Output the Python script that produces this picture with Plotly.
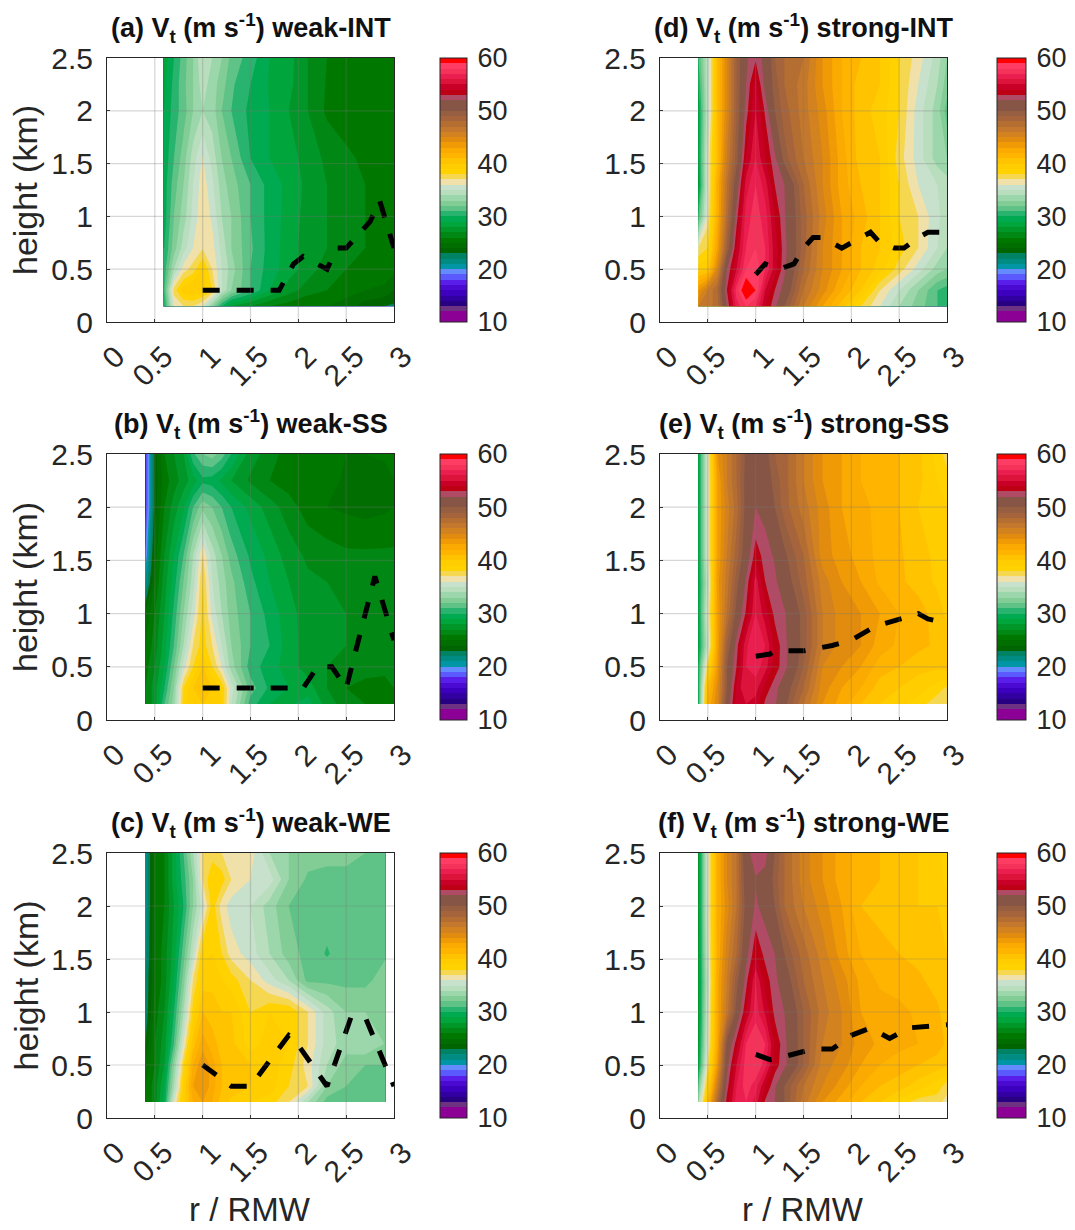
import plotly.graph_objects as go
from plotly.subplots import make_subplots

n = float("nan")

# ----- shared data -----
r_vals = [0.4,0.5,0.6,0.7,0.8,0.9,1.0,1.1,1.2,1.3,1.5,1.7,1.9,2.1,2.3,2.5,2.7,2.9,3.0]
heights = [0.15,0.3,0.5,0.7,1.0,1.3,1.55,2.0,2.25,2.5]
x_ticks = [0,0.5,1,1.5,2,2.5,3]
y_ticks = [0,0.5,1,1.5,2,2.5]
x_tick_text = ["0","0.5","1","1.5","2","2.5","3"]
y_tick_text = ["0","0.5","1","1.5","2","2.5"]
cbar_ticks = [10,20,30,40,50,60]

band_colors = [
 (140,0,150),(140,0,150),(110,50,130),(40,0,130),(50,0,160),(60,0,190),(75,10,210),(90,30,235),(90,90,255),(100,140,255),
 (0,150,165),(0,140,130),(0,130,100),(0,100,0),(0,110,0),(0,120,0),(0,135,20),(0,150,40),(0,165,60),(0,170,80),
 (40,180,110),(95,195,135),(130,205,150),(155,215,170),(185,222,190),(200,225,205),(240,225,170),(245,215,80),(255,210,0),(255,205,0),
 (255,195,0),(255,180,0),(250,170,0),(240,155,5),(225,140,15),(210,130,30),(195,120,45),(180,110,50),(165,100,60),(150,95,65),
 (135,85,70),(135,85,70),(175,75,100),(190,0,20),(200,0,40),(220,20,60),(235,30,80),(245,50,90),(255,60,100),(255,0,0)]

weak_int = [
 [n,n,30,36,37,37,36,33,30,28,27,26,25.5,25,25,24.5,23.5,23,22.8],
 [n,n,31,37.5,39.5,40,39.5,38,35,33,31,29,27.5,26.5,26,25.5,25,24.8,24],
 [n,n,30.5,34,36.5,37.5,39.2,37,35,33.5,31,29.5,28.5,27.5,26.5,26,25.8,25.5,25.3],
 [n,n,30,32.5,34.5,36,36.9,36.4,34.7,33,31.2,29.6,28.5,27.5,27,26.2,26,25.8,25.6],
 [n,n,29.5,32,33.5,35.3,36.8,35.8,34,33,31,29.6,28.6,27.6,27,26.5,26,26,26],
 [n,n,29.5,31.5,33,35,36.6,35.2,33.5,32.5,31,29.6,28.7,27.7,27,26.5,26,25.9,25.9],
 [n,n,29.3,31,32.5,34.5,36.1,34.6,33,32,30,29,28.5,27.5,26.8,26.2,25.8,25.8,25.8],
 [n,n,29,30.5,31.5,33,34,33.5,32,31,29.7,29,28,27,25.8,25.5,25.5,25.6,25.8],
 [n,n,28.8,30.3,31.7,33,34.5,33.5,32.5,31.2,30,28.9,28.3,27,25.9,25.6,25.6,25.7,25.8],
 [n,n,28.5,30,31.5,33,35,34,33,31.7,30.5,29,28.4,27,26,25.8,25.7,25.8,25.9]]

weak_ss = [
 [26,27.5,31,33.5,38.5,40,40,40,39,35,30.5,29,28.8,29.5,27.5,26.5,26,26,26],
 [26,27.5,30,33,38,40,41,40,38.8,35.5,31.5,29.8,29,28.5,27,26,25.6,25.6,26],
 [25.5,27,29,32,35.5,38,40,38,36,33.5,30.5,29.5,28.5,27.5,27,26.8,26.5,26.3,26.3],
 [25,26.5,28.5,31,34,37,38.5,37,35,33,31,30,28.5,27.5,27.2,27,26.8,26.6,26.6],
 [24,26,28,30.3,33,35.5,38.3,35.7,34,32.5,31,29.6,28.4,27.5,27.2,27,26.8,26.8,26.8],
 [21,25,27.5,29.5,32,34.5,38,35,33.5,32.3,30.3,29,28,27.2,27,26.8,26.7,26.7,26.7],
 [19,24.5,27,29,31,34,37,34.5,33,31.5,29.8,28.7,27.5,26.8,26.5,26.2,26.2,26.2,26.2],
 [17.5,23.5,26,27.5,28.8,31,32.7,32,31,30,28.7,27.5,26.5,25.5,25,24.8,24.6,24.8,25],
 [17.5,23.5,25.5,26.5,27.5,28.5,29.7,29.5,28.8,28,26.8,26,25.5,25.3,25.2,24.9,24.4,24.5,25],
 [17.5,23.5,26,27,28,30.8,32,32.5,31.5,30,27.5,26.5,25.5,25.5,25.3,25,25,25.2,25.5]]

weak_we = [
 [25,26.5,29.5,36,39.5,42,43,42,40.5,39.8,39,38.5,37,34,31.5,31.5,31.5,31.5,n],
 [25,26.5,29,34,39,43,44,42.5,41,40.5,40,39.5,38,37,33,32,32,31.5,n],
 [24,26,28,33,38,42,44,42.5,41,40.5,40,39.5,38.5,36.5,34,32.5,32,32,n],
 [23,26,27.5,31,36,40.5,42.5,41.5,40.5,40.3,38.5,39.5,39,37,34.5,33.5,34,33,n],
 [22,25.5,27,30,34,38.5,41,40.5,40,40,38,39,39,37,34.5,33,33,33,n],
 [22,25,26.5,29,32.5,37,39.5,39.7,39,38.5,37,35.5,34,31.7,31.7,31.7,31.7,32.5,n],
 [21.5,25,26.5,28.5,31.5,35,38.8,39,38,36.5,35.5,34,32.5,31.6,30.9,31.6,31.8,31.8,n],
 [21,25,26,28,30,33,35.5,38.5,36.5,35.5,35,33.5,32,31.5,31.5,31.5,32,32,n],
 [21,25,26,28.5,30.5,33,37,39,38.5,37,36,35.5,33,31.8,31,31.5,32,31.5,n],
 [21,25,26,28.5,31,34,37,37.5,37,37,36.5,34,33,32.5,33,32.5,32,31.5,n]]

strong_int = [
 [46,46.5,47.5,52,56.5,58,57,54,52.3,50,46,43,40.5,38,36,34,32.5,31,31],
 [44,46,48,53,57.5,60.5,59,55,53,51.5,47,44.5,42,40,37,35,33,31,30.5],
 [39.5,40,45,52,55,58,58.8,57,54.5,52.3,48,45,43,41,39.5,37.5,35.5,33.5,33],
 [37,38,43,49,54,57,58,57,54.5,52.5,48.5,45,43,41,40,38.5,37,35,34],
 [31,36.5,42,47.5,52.5,56.5,57.5,56.5,54,52.2,48.5,45.5,43,41.5,40,38,37,35.2,34.5],
 [28.5,36,42,47,51,55.5,57,55.5,53,52,48,45,42.5,41,40,38,36,35,34.5],
 [29,36,41,46,49.5,54,56,54,52.3,49.5,47,45,42.5,40.5,40,37.5,35.5,33.5,33],
 [29,35,41,45,49,52.5,55,52.8,50,48.5,46.5,44.5,42,40.5,39.5,38,35.5,33.5,31.5],
 [30,35,41,45,49,52,54.5,51.5,49.5,48,46.5,44,42,40.5,40,38,36,34,32.5],
 [31,35,41,45,49,51.8,52.8,51.5,49,48,47,44,42,41,40,38,36.5,34.5,33]]

strong_ss = [
 [30,42,45,51,54.5,55,54.5,52.8,52.2,50.5,47,44,42.5,41,40,39.5,38.5,37.3,37],
 [30,41,44.5,50,54.2,56,55.5,53.5,52.5,51,48,44.5,43,42,40.5,40,39.5,38.5,37.8],
 [30,38,43.5,50,53,56,56.5,55.5,53.5,52.5,49,45,44,43,41.5,41,40.3,40.2,40.5],
 [29,35,43,49,52.5,55.8,57,56,53.7,52.4,49.5,46,44.5,44,42.5,41.8,41.3,40.8,40.5],
 [29,36,43,47,50.5,53.2,56,54.5,52.7,52.2,49.5,46,44.5,44,43,42,41.5,40.5,39.8],
 [29,35,43.5,46.5,49.5,52.2,55.5,53,52.3,51,48.5,45.5,44,43,41.8,41.2,40.6,39.8,39.3],
 [29,36,43,46,48.5,51,53.5,52.6,51.8,50.3,48,44.5,43.5,42.5,41.7,41.2,40.3,39.8,39.3],
 [29,36,43,45.5,47.5,50.5,52,51.5,50,48.5,46.5,44.5,43,42.5,41.5,41,40,39.5,39],
 [29,36,43,46,48,50.5,51.5,51,49.5,48.5,46,44,43,42,41.5,41,40.3,39,38.5],
 [29,36,44,46,48,50.3,51.3,50.5,49,48.5,46,44,43,42,41.5,41,40.3,38.5,37.5]]

strong_we = [
 [34,41,48,53.5,56.5,57,55.5,52.8,52,50,46.5,44,42.5,41,40,38.5,37.5,37.5,36.5],
 [32,39,46,52.5,56,57.5,56.5,54,52.2,50,47,45,43.5,42,41,40.5,39.5,38.5,37.5],
 [29,37,43.5,51.5,55,57.5,58,56.5,53.5,52.4,49,45.5,44.5,43,42,41.5,41,40.5,40],
 [28.5,36,42.5,50.5,53.5,57,58,57,53.8,52.4,49,46,45,43.5,42.8,42.3,42,41.5,40.8],
 [28,35.5,42.5,46.5,50.5,54,56.5,54.8,52.7,52,49,46.5,45,43,42.5,42.3,41.8,41.2,40.5],
 [28,35,42.5,46,49.5,52.5,56,53.5,52.4,51,48,46,44.5,42.7,41.8,41.5,41.2,40.6,40.2],
 [28,35.5,42,45.5,48,51.5,53.8,52.7,52,50,47.5,45.5,43.5,42,41.5,41,40.7,40.3,40],
 [28,36,42,44.5,47,50.5,52.2,51.5,50,48,46,44.5,43,41,40.5,40.3,40,40,39.5],
 [28,36,42,45,47,51,51.9,51.5,49.5,48,45.5,44,42.5,41.5,41,40.5,40,39.7,38.5],
 [28,36,42,45,47,51.5,52.7,52.5,50,48,45.5,44,42.5,41.5,41,40.5,40,39.5,38]]

weak_int_x = [1,1.8,1.95,2.05,2.3,2.4,2.5,2.7,2.75,2.85,3]
weak_int_y = [0.3,0.3,0.55,0.62,0.5,0.7,0.7,0.9,0.95,1.15,0.7]
weak_ss_x = [1,2.05,2.2,2.35,2.5,2.8,3]
weak_ss_y = [0.3,0.3,0.5,0.5,0.3,1.35,0.75]
weak_we_x = [1,1.3,1.5,1.9,1.95,2.3,2.55,2.7,3]
weak_we_y = [0.5,0.3,0.3,0.78,0.75,0.3,0.95,0.95,0.3]
strong_int_x = [1,1.1,1.25,1.4,1.5,1.6,1.7,1.9,2,2.2,2.3,2.45,2.55,2.7,2.8,2.95]
strong_int_y = [0.45,0.55,0.5,0.55,0.7,0.8,0.8,0.7,0.75,0.85,0.75,0.7,0.7,0.8,0.85,0.85]
strong_ss_x = [1,1.15,1.2,1.5,1.8,2,2.25,2.5,2.7,2.8,2.9]
strong_ss_y = [0.6,0.62,0.65,0.65,0.7,0.75,0.88,0.95,1,0.95,0.93]
strong_we_x = [1,1.15,1.3,1.45,1.6,1.8,2,2.2,2.4,2.5,2.6,3]
strong_we_y = [0.6,0.55,0.58,0.62,0.65,0.65,0.78,0.85,0.75,0.8,0.85,0.88]

W, H = 1075, 1230
panels = [
 ("(a)", "weak-INT",   weak_int,   weak_int_x,   weak_int_y,   1, 1, 58, 322),
 ("(b)", "weak-SS",    weak_ss,    weak_ss_x,    weak_ss_y,    2, 1, 454, 720),
 ("(c)", "weak-WE",    weak_we,    weak_we_x,    weak_we_y,    3, 1, 853, 1118),
 ("(d)", "strong-INT", strong_int, strong_int_x, strong_int_y, 1, 2, 58, 322),
 ("(e)", "strong-SS",  strong_ss,  strong_ss_x,  strong_ss_y,  2, 2, 454, 720),
 ("(f)", "strong-WE",  strong_we,  strong_we_x,  strong_we_y,  3, 2, 853, 1118),
]
col_px = {1: (107, 394, 440, 27), 2: (660, 947, 997, 29)}

scale = []
for i, c in enumerate(band_colors):
    s = f"rgb{c}".replace(" ", "")
    scale.append([i/50, s])
    scale.append([(i+1)/50, s])

fig = make_subplots(rows=3, cols=2)
INK = "#262626"
font = "Liberation Sans"
annots = []

for tag, name, z, lx, ly, row, col, top, bot in panels:
    x0, x1, cx, cw = col_px[col]
    fig.add_trace(go.Contour(
        x=r_vals, y=heights, z=z, zmin=10, zmax=60, colorscale=scale,
        contours=dict(coloring="fill", start=10, end=60, size=1, showlines=False),
        line=dict(width=0, smoothing=0), connectgaps=False, hoverinfo="skip",
        colorbar=dict(
            x=cx/W, xanchor="left", xref="paper", xpad=0, ypad=0,
            y=1-bot/H, yanchor="bottom", yref="paper", len=(bot-top)/H, lenmode="fraction",
            thickness=cw, thicknessmode="pixels", outlinecolor=INK, outlinewidth=1,
            tickmode="array", tickvals=cbar_ticks, ticks="outside", ticklen=5, tickcolor="rgba(0,0,0,0)",
            tickfont=dict(family=font, size=27, color=INK), borderwidth=0),
    ), row=row, col=col)
    fig.add_trace(go.Scatter(x=lx, y=ly, mode="lines", showlegend=False, hoverinfo="skip",
        line=dict(color="black", width=5, dash="17px,17px"), cliponaxis=False), row=row, col=col)
    fig.update_xaxes(row=row, col=col, domain=[x0/W, x1/W], range=[0,3], tickmode="array",
        tickvals=x_ticks, ticktext=x_tick_text, tickangle=-45, showgrid=False, zeroline=False,
        showline=True, mirror=True, linecolor=INK, linewidth=1, ticks="inside", ticklen=3, tickcolor=INK,
        tickfont=dict(family=font, size=30, color=INK), layer="above traces",
        ticklabelshift=9, ticklabelstandoff=4)
    fig.update_yaxes(row=row, col=col, domain=[1-bot/H, 1-top/H], range=[0,2.5], tickmode="array",
        tickvals=y_ticks, ticktext=y_tick_text, showgrid=False, zeroline=False,
        showline=True, mirror=True, linecolor=INK, linewidth=1, ticks="inside", ticklen=3, tickcolor=INK,
        tickfont=dict(family=font, size=30, color=INK), layer="above traces", ticklabelstandoff=7)
    for v in x_ticks[1:-1]:
        fig.add_shape(type="line", x0=v, x1=v, y0=0, y1=2.5, layer="above",
                      line=dict(color="rgba(120,120,120,0.3)", width=1.2), row=row, col=col)
    for v in y_ticks[1:-1]:
        fig.add_shape(type="line", x0=0, x1=3, y0=v, y1=v, layer="above",
                      line=dict(color="rgba(120,120,120,0.3)", width=1.2), row=row, col=col)
    mid = (x0+x1)/2
    annots.append(dict(text=f"<b>{tag} V<sub>t</sub> (m s<sup>-1</sup>) {name}</b>", x=mid/W,
        y=1-(top-30)/H, xref="paper", yref="paper", showarrow=False, xanchor="center", yanchor="middle",
        font=dict(family=font, size=27, color="#111")))
    if col == 1:
        annots.append(dict(text="height (km)", x=25/W, y=1-(top+bot)/2/H, xref="paper", yref="paper",
            showarrow=False, textangle=-90, xanchor="center", yanchor="middle",
            font=dict(family=font, size=34, color=INK)))
    if row == 3:
        annots.append(dict(text="r / RMW", x=(250 if col == 1 else 803)/W, y=1-1209/H, xref="paper", yref="paper",
            showarrow=False, xanchor="center", yanchor="middle",
            font=dict(family=font, size=33, color=INK)))

fig.update_layout(width=W, height=H, autosize=False,
    margin=dict(l=0, r=0, t=0, b=0, autoexpand=False),
    paper_bgcolor="white", plot_bgcolor="white", showlegend=False, annotations=annots,
    font=dict(family=font))
fig.write_html("out.html", config={"displayModeBar": False}, post_script="document.body.style.margin='0';")
